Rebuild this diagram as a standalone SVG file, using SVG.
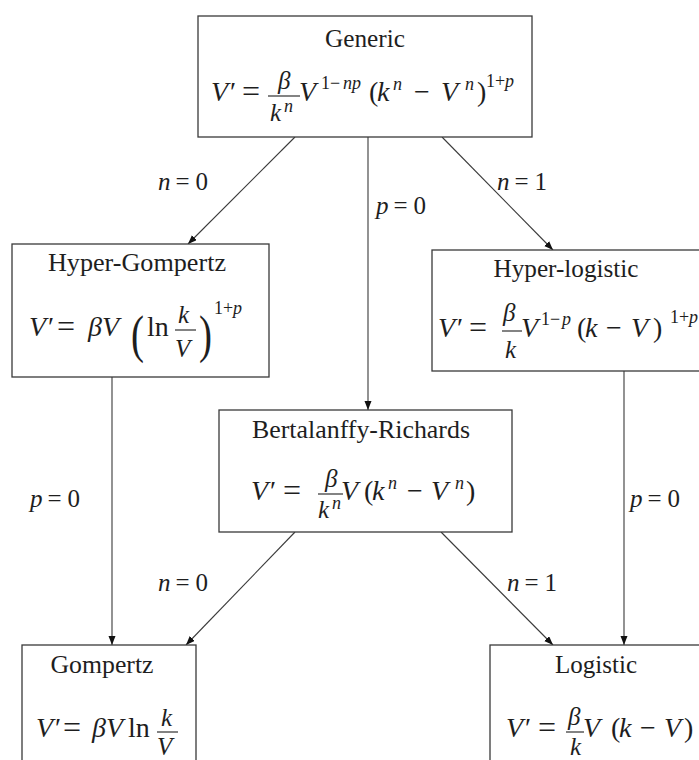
<svg xmlns="http://www.w3.org/2000/svg" width="699" height="760" viewBox="0 0 699 760">
<defs>
<style>
.box{fill:#fff;stroke:#3a3a3a;stroke-width:1.3}
.ttl{font-family:"Liberation Serif","Times New Roman",Tinos,"DejaVu Serif",serif;font-size:25px;fill:#1e1e1e;text-anchor:middle}
.m{font-family:"Liberation Serif","Times New Roman",Tinos,"DejaVu Serif",serif;font-size:28px;fill:#1e1e1e}
.i{font-style:italic}
.f{font-size:25px;font-style:italic}
.eq{font-size:32px}
.s{font-size:18px}
.si{font-size:18px;font-style:italic}
.lbl{font-family:"Liberation Serif","Times New Roman",Tinos,"DejaVu Serif",serif;font-size:25px;fill:#1e1e1e}
.bar{stroke:#1e1e1e;stroke-width:1.1}
.edge{fill:none;stroke:#3a3a3a;stroke-width:1.1;marker-end:url(#ah)}
</style>
<marker id="ah" markerUnits="userSpaceOnUse" markerWidth="10" markerHeight="8" refX="9" refY="3.5" orient="auto">
<path d="M0,0 L9,3.5 L0,7 z" fill="#111"/>
</marker>
</defs>
<rect width="699" height="760" fill="#fff"/>

<g id="connectors">
<path class="edge" d="M295,137 L188,244"/>
<path class="edge" d="M368,137 L368,410"/>
<path class="edge" d="M442,137 L553,250"/>
<path class="edge" d="M112,377 L112,645"/>
<path class="edge" d="M624,371 L624,645"/>
<path class="edge" d="M295,532 L186,645"/>
<path class="edge" d="M441,532 L553,645"/>
<text class="lbl" x="158" y="190"><tspan class="i">n</tspan><tspan dx="5">=</tspan><tspan dx="6">0</tspan></text>
<text class="lbl" x="376" y="214"><tspan class="i">p</tspan><tspan dx="5">=</tspan><tspan dx="6">0</tspan></text>
<text class="lbl" x="497" y="190"><tspan class="i">n</tspan><tspan dx="5">=</tspan><tspan dx="6">1</tspan></text>
<text class="lbl" x="30" y="507"><tspan class="i">p</tspan><tspan dx="5">=</tspan><tspan dx="6">0</tspan></text>
<text class="lbl" x="630" y="507"><tspan class="i">p</tspan><tspan dx="5">=</tspan><tspan dx="6">0</tspan></text>
<text class="lbl" x="158" y="591"><tspan class="i">n</tspan><tspan dx="5">=</tspan><tspan dx="6">0</tspan></text>
<text class="lbl" x="507" y="591"><tspan class="i">n</tspan><tspan dx="5">=</tspan><tspan dx="6">1</tspan></text>
</g>

<g id="generic">
<rect class="box" x="198" y="16" width="334" height="121"/>
<text class="ttl" x="365" y="47" textLength="80" lengthAdjust="spacingAndGlyphs">Generic</text>
<text class="m"><tspan class="i" x="211" y="101">V</tspan><tspan x="230" y="101">′</tspan><tspan class="eq" x="242" y="102">=</tspan><tspan class="f" x="278" y="89">β</tspan><tspan class="f" x="270" y="121">k</tspan><tspan class="si" x="284" y="112">n</tspan><tspan class="i" x="299" y="101">V</tspan><tspan class="s" x="321" y="89">1−</tspan><tspan class="si" x="343" y="89">np</tspan><tspan x="369" y="101">(</tspan><tspan class="i" x="377" y="101">k</tspan><tspan class="si" x="393" y="90">n</tspan><tspan x="414" y="101">−</tspan><tspan class="i" x="441" y="101">V</tspan><tspan class="si" x="465" y="90">n</tspan><tspan x="477" y="101">)</tspan><tspan class="s" x="486" y="87">1+</tspan><tspan class="si" x="505" y="87">p</tspan></text>
<line class="bar" x1="268" y1="96" x2="300" y2="96"/>
</g>

<g id="hyper-gompertz">
<rect class="box" x="12" y="244" width="257" height="133"/>
<text class="ttl" x="137" y="271" textLength="178" lengthAdjust="spacingAndGlyphs">Hyper-Gompertz</text>
<text class="m"><tspan class="i" x="29" y="336">V</tspan><tspan x="48" y="336">′</tspan><tspan class="eq" x="57" y="337">=</tspan><tspan class="i" x="88" y="336">β</tspan><tspan class="i" x="102" y="336">V</tspan><tspan x="147" y="336">ln</tspan><tspan class="f" x="178" y="323">k</tspan><tspan class="f" x="175" y="357">V</tspan><tspan class="s" x="214" y="314">1+</tspan><tspan class="si" x="233" y="314">p</tspan></text>
<text class="m" transform="translate(131,352) scale(0.75,1)" style="font-size:52px">(</text>
<text class="m" transform="translate(199,352) scale(0.75,1)" style="font-size:52px">)</text>
<line class="bar" x1="175" y1="330" x2="196" y2="330"/>
</g>

<g id="hyper-logistic">
<rect class="box" x="432" y="250" width="280" height="121"/>
<text class="ttl" x="566" y="277" textLength="145" lengthAdjust="spacingAndGlyphs">Hyper-logistic</text>
<text class="m"><tspan class="i" x="438" y="337">V</tspan><tspan x="457" y="337">′</tspan><tspan class="eq" x="469" y="338">=</tspan><tspan class="f" x="503" y="321">β</tspan><tspan class="f" x="505" y="358">k</tspan><tspan class="i" x="521" y="337">V</tspan><tspan class="s" x="541" y="325">1−</tspan><tspan class="si" x="562" y="325">p</tspan><tspan x="577" y="337">(</tspan><tspan class="i" x="585" y="337">k</tspan><tspan x="606" y="337">−</tspan><tspan class="i" x="631" y="337">V</tspan><tspan x="653" y="337">)</tspan><tspan class="s" x="670" y="323">1+</tspan><tspan class="si" x="689" y="323">p</tspan></text>
<line class="bar" x1="502" y1="331" x2="522" y2="331"/>
</g>

<g id="bertalanffy-richards">
<rect class="box" x="219" y="410" width="293" height="122"/>
<text class="ttl" x="361" y="438" textLength="218" lengthAdjust="spacingAndGlyphs">Bertalanffy-Richards</text>
<text class="m"><tspan class="i" x="251" y="500">V</tspan><tspan x="270" y="500">′</tspan><tspan class="eq" x="283" y="501">=</tspan><tspan class="f" x="325" y="487">β</tspan><tspan class="f" x="318" y="518">k</tspan><tspan class="si" x="332" y="509">n</tspan><tspan class="i" x="341" y="500">V</tspan><tspan x="364" y="500">(</tspan><tspan class="i" x="372" y="500">k</tspan><tspan class="si" x="388" y="489">n</tspan><tspan x="407" y="500">−</tspan><tspan class="i" x="431" y="500">V</tspan><tspan class="si" x="455" y="489">n</tspan><tspan x="466" y="500">)</tspan></text>
<line class="bar" x1="318" y1="494" x2="343" y2="494"/>
</g>

<g id="gompertz">
<rect class="box" x="22" y="645" width="174" height="130"/>
<text class="ttl" x="102" y="673" textLength="103" lengthAdjust="spacingAndGlyphs">Gompertz</text>
<text class="m"><tspan class="i" x="36" y="737">V</tspan><tspan x="55" y="737">′</tspan><tspan class="eq" x="63" y="738">=</tspan><tspan class="i" x="92" y="737">β</tspan><tspan class="i" x="106" y="737">V</tspan><tspan x="128" y="737">ln</tspan><tspan class="f" x="161" y="726">k</tspan><tspan class="f" x="157" y="755">V</tspan></text>
<line class="bar" x1="157" y1="732" x2="178" y2="732"/>
</g>

<g id="logistic">
<rect class="box" x="490" y="645" width="230" height="130"/>
<text class="ttl" x="596" y="673" textLength="82" lengthAdjust="spacingAndGlyphs">Logistic</text>
<text class="m"><tspan class="i" x="506" y="737">V</tspan><tspan x="525" y="737">′</tspan><tspan class="eq" x="538" y="738">=</tspan><tspan class="f" x="568" y="725">β</tspan><tspan class="f" x="570" y="755">k</tspan><tspan class="i" x="583" y="737">V</tspan><tspan x="611" y="737">(</tspan><tspan class="i" x="619" y="737">k</tspan><tspan x="640" y="737">−</tspan><tspan class="i" x="664" y="737">V</tspan><tspan x="684" y="737">)</tspan></text>
<line class="bar" x1="566" y1="732" x2="584" y2="732"/>
</g>
</svg>
